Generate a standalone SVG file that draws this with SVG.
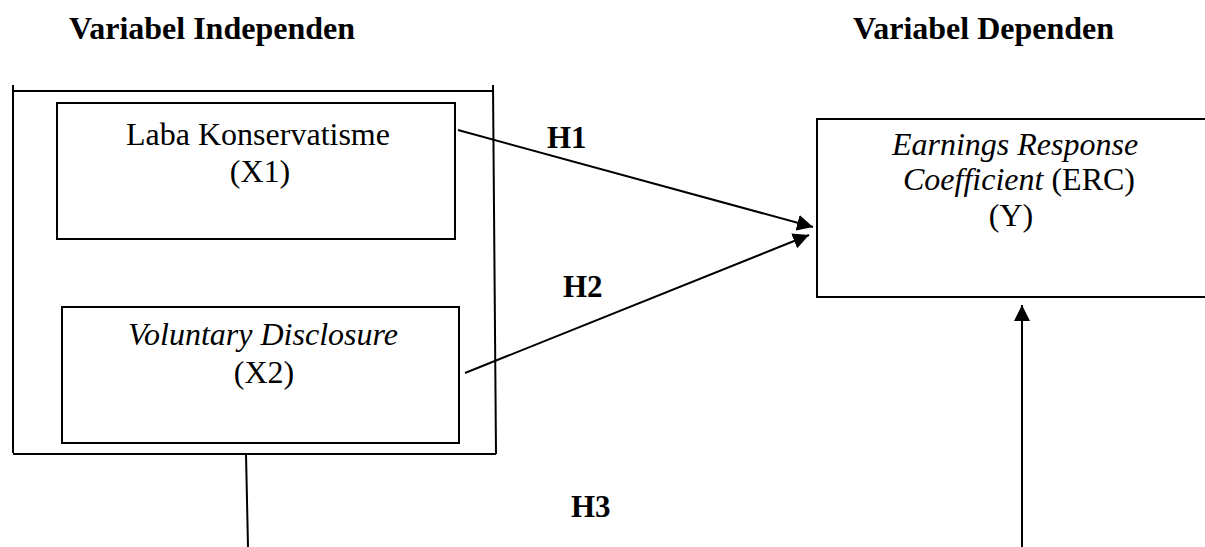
<svg xmlns="http://www.w3.org/2000/svg" width="1205" height="547" viewBox="0 0 1205 547">
  <style>
    text { font-family: "Liberation Serif", "Times New Roman", serif; font-size: 32px; fill: #000; }
    .head { font-weight: bold; }
    .hyp { font-weight: bold; font-size: 31px; }
    .it { font-style: italic; }
    .box { fill: none; stroke: #000; stroke-width: 2; }
    .edge { fill: none; stroke: #000; stroke-width: 2; }
  </style>
  <defs>
    <marker id="arrow" markerUnits="userSpaceOnUse" markerWidth="18" markerHeight="16" refX="16" refY="8" orient="auto">
      <path d="M0,0 L16,8 L0,16 Z" fill="#000"/>
    </marker>
  </defs>

  <rect width="1205" height="547" fill="#fff"/>

  <!-- column headings -->
  <g id="headings">
    <text class="head" x="69" y="39">Variabel Independen</text>
    <text class="head" x="853" y="39">Variabel Dependen</text>
  </g>

  <!-- frame grouping the independent variables -->
  <g id="independent-group">
    <line class="edge" x1="13" y1="85" x2="13" y2="453"/>
    <line class="edge" x1="13" y1="91" x2="493" y2="91"/>
    <line class="edge" x1="493" y1="85" x2="496" y2="454"/>
    <line class="edge" x1="13" y1="454" x2="496" y2="454"/>
  </g>

  <g id="node-x1">
    <rect class="box" x="57" y="103" width="398" height="136"/>
    <text x="258" y="145" text-anchor="middle">Laba Konservatisme</text>
    <text x="260" y="182" text-anchor="middle">(X1)</text>
  </g>

  <g id="node-x2">
    <rect class="box" x="62" y="307" width="397" height="136"/>
    <text class="it" x="263" y="345" text-anchor="middle">Voluntary Disclosure</text>
    <text x="264" y="383" text-anchor="middle">(X2)</text>
  </g>

  <g id="node-y">
    <rect class="box" x="817" y="119" width="400" height="178"/>
    <text class="it" x="1015" y="155" text-anchor="middle">Earnings Response</text>
    <text x="1019" y="190" text-anchor="middle"><tspan class="it">Coefficient</tspan> (ERC)</text>
    <text x="1011" y="226" text-anchor="middle">(Y)</text>
  </g>

  <!-- hypothesis paths -->
  <g id="connectors">
    <line class="edge" x1="458" y1="130" x2="813" y2="227" marker-end="url(#arrow)"/>
    <line class="edge" x1="465" y1="373" x2="809" y2="235" marker-end="url(#arrow)"/>
    <line class="edge" x1="246" y1="454" x2="248" y2="547"/>
    <line class="edge" x1="1022" y1="547" x2="1022" y2="305" marker-end="url(#arrow)"/>
  </g>

  <g id="labels">
    <text class="hyp" x="547" y="148">H1</text>
    <text class="hyp" x="563" y="297">H2</text>
    <text class="hyp" x="571" y="517">H3</text>
  </g>
</svg>
